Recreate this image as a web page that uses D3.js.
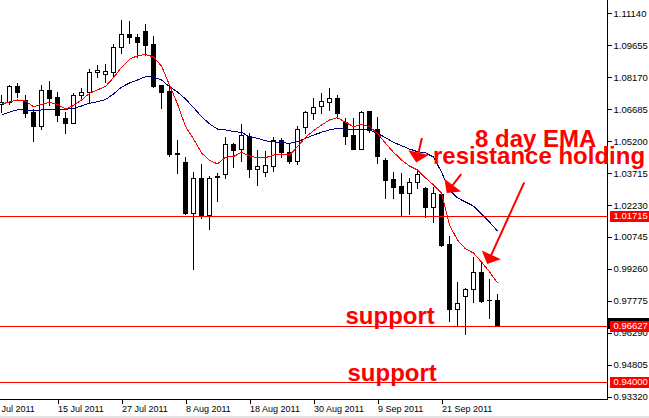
<!DOCTYPE html>
<html><head><meta charset="utf-8">
<script src="https://cdn.jsdelivr.net/npm/d3@7"></script>
<style>
html,body{margin:0;padding:0;background:#fff;}
svg{display:block;}
</style></head>
<body>
<script>
// ---------- DATA ----------
const dates = ["6 Jul","7 Jul","8 Jul","11 Jul","12 Jul","13 Jul","14 Jul","15 Jul","18 Jul","19 Jul","20 Jul","21 Jul","22 Jul","25 Jul","26 Jul","27 Jul","28 Jul","29 Jul","1 Aug","2 Aug","3 Aug","4 Aug","5 Aug","8 Aug","9 Aug","10 Aug","11 Aug","12 Aug","15 Aug","16 Aug","17 Aug","18 Aug","19 Aug","22 Aug","23 Aug","24 Aug","25 Aug","26 Aug","29 Aug","30 Aug","31 Aug","1 Sep","2 Sep","5 Sep","6 Sep","7 Sep","8 Sep","9 Sep","12 Sep","13 Sep","14 Sep","15 Sep","16 Sep","19 Sep","20 Sep","21 Sep","22 Sep","23 Sep","26 Sep","27 Sep","28 Sep","29 Sep","30 Sep"];
const open  = [1.0692,1.0700,1.0776,1.0711,1.0657,1.0592,1.0758,1.0725,1.0627,1.0606,1.0733,1.0747,1.0840,1.0832,1.0840,1.0956,1.1018,1.1002,1.1032,1.0971,1.0779,1.0753,1.0465,1.0421,1.0184,1.0347,1.0177,1.0355,1.0366,1.0507,1.0482,1.0545,1.0389,1.0378,1.0406,1.0525,1.0468,1.0429,1.0584,1.0649,1.0683,1.0700,1.0719,1.0609,1.0548,1.0482,1.0659,1.0575,1.0432,1.0344,1.0311,1.0277,1.0329,1.0301,1.0215,1.0273,1.0042,0.9738,0.9801,0.9831,0.9913,0.9781,0.9781];
const high  = [1.0734,1.0781,1.0790,1.0734,1.0668,1.0781,1.0801,1.0750,1.0657,1.0742,1.0765,1.0854,1.0874,1.0877,1.0970,1.1083,1.1078,1.1018,1.1064,1.1009,1.0780,1.0776,1.0525,1.0447,1.0375,1.0412,1.0358,1.0370,1.0540,1.0513,1.0600,1.0556,1.0479,1.0474,1.0538,1.0533,1.0510,1.0590,1.0661,1.0722,1.0742,1.0765,1.0734,1.0626,1.0629,1.0659,1.0660,1.0631,1.0440,1.0378,1.0373,1.0350,1.0389,1.0308,1.0308,1.0280,1.0080,0.9867,0.9839,0.9983,0.9952,0.9879,0.9808];
const low   = [1.0655,1.0692,1.0725,1.0632,1.0522,1.0578,1.0688,1.0615,1.0559,1.0603,1.0711,1.0697,1.0819,1.0796,1.0819,1.0931,1.0975,1.0910,1.0920,1.0773,1.0675,1.0452,1.0373,1.0180,0.9924,1.0164,1.0110,1.0242,1.0350,1.0401,1.0429,1.0352,1.0315,1.0359,1.0382,1.0448,1.0420,1.0414,1.0559,1.0621,1.0649,1.0665,1.0626,1.0508,1.0482,1.0482,1.0564,1.0420,1.0254,1.0254,1.0172,1.0181,1.0303,1.0166,1.0145,1.0032,0.9685,0.9665,0.9622,0.9774,0.9774,0.9699,0.9661];
const close = [1.0702,1.0776,1.0748,1.0652,1.0592,1.0758,1.0722,1.0641,1.0606,1.0734,1.0747,1.0840,1.0850,1.0846,1.0956,1.1018,1.1002,1.0982,1.0968,1.0776,1.0750,1.0460,1.0461,1.0184,1.0347,1.0172,1.0347,1.0356,1.0505,1.0479,1.0548,1.0389,1.0404,1.0409,1.0525,1.0471,1.0429,1.0575,1.0654,1.0680,1.0706,1.0719,1.0652,1.0545,1.0482,1.0657,1.0572,1.0451,1.0339,1.0308,1.0277,1.0329,1.0367,1.0215,1.0277,1.0037,0.9738,0.9766,0.9831,0.9910,0.9778,0.9780,0.96627];
const emaFast = [1.0692,1.0702,1.0711,1.0706,1.0680,1.0691,1.0700,1.0691,1.0669,1.0685,1.0711,1.0742,1.0758,1.0774,1.0815,1.0863,1.0900,1.0917,1.0923,1.0911,1.0869,1.0781,1.0692,1.0588,1.0530,1.0465,1.0431,1.0414,1.0445,1.0448,1.0468,1.0451,1.0443,1.0443,1.0455,1.0460,1.0455,1.0494,1.0538,1.0568,1.0595,1.0618,1.0629,1.0607,1.0587,1.0598,1.0587,1.0556,1.0510,1.0468,1.0432,1.0404,1.0386,1.0349,1.0316,1.0279,1.0130,1.0060,1.0019,1.0000,0.9958,0.9912,0.9861];
const emaSlow = [1.0641,1.0655,1.0665,1.0665,1.0660,1.0665,1.0669,1.0669,1.0668,1.0672,1.0683,1.0696,1.0703,1.0713,1.0739,1.0771,1.0790,1.0804,1.0819,1.0818,1.0804,1.0773,1.0748,1.0716,1.0676,1.0634,1.0600,1.0576,1.0572,1.0564,1.0561,1.0540,1.0533,1.0521,1.0517,1.0513,1.0510,1.0517,1.0533,1.0548,1.0561,1.0572,1.0580,1.0576,1.0572,1.0575,1.0572,1.0556,1.0536,1.0514,1.0499,1.0483,1.0471,1.0465,1.0446,1.0376,1.0293,1.0256,1.0237,1.0218,1.0181,1.0144,1.0102];
const yTicks = [1.11140,1.09655,1.08170,1.06685,1.05200,1.03715,1.02230,1.00745,0.99260,0.97775,0.96290,0.94805,0.93320];
const xTickIdx = [-1,7,15,23,31,39,47,55];
const xTickLabels = ["5 Jul 2011","15 Jul 2011","27 Jul 2011","8 Aug 2011","18 Aug 2011","30 Aug 2011","9 Sep 2011","21 Sep 2011"];
const levels = [1.01715, 0.96627, 0.94000];
const bid = close[close.length-1];
// arrows: [index, price] tail -> tip
const arrows = [
  {from:[52.55,1.0534], to:[51.84,1.0421]},
  {from:[57.46,1.0367], to:[55.65,1.0279]},
  {from:[65.34,1.0328], to:[60.71,0.9949]}
];
const notes = [
  {text:"8 day EMA", x:475, y:147},
  {text:"resistance holding", x:433, y:164},
  {text:"support", x:345.5, y:323.5},
  {text:"support", x:347.5, y:380.5}
];

// ---------- CHART ----------
const W=649, H=418, axisX=607.5, axisY=399.5;
const svg = d3.select("body").append("svg").attr("width",W).attr("height",H);
svg.append("rect").attr("width",W).attr("height",H).attr("fill","#fff");
svg.append("rect").attr("x",0).attr("y",416).attr("width",W).attr("height",2).attr("fill","#e4e4e4");

const x = d3.scaleLinear().domain([0, dates.length-1]).range([1.5, 1.5+8*(dates.length-1)]);
const y = d3.scaleLinear().domain([0.9332, 1.1114]).range([396.7, 13.3]);

const plot = svg.append("g").attr("shape-rendering","crispEdges");

// candles
const bars = d3.range(dates.length).map(i=>({i,o:open[i],h:high[i],l:low[i],c:close[i]}));
const cg = plot.append("g");
bars.forEach(b=>{
  const cx = x(b.i);
  cg.append("line").attr("x1",cx).attr("x2",cx)
    .attr("y1",Math.round(y(b.h))).attr("y2",Math.round(y(b.l))+1)
    .attr("stroke","#000").attr("stroke-width",1);
  const top = Math.round(y(Math.max(b.o,b.c)))+0.5;
  const bot = Math.round(y(Math.min(b.o,b.c)))+0.5;
  if (bot-top < 1) {
    cg.append("line").attr("x1",cx-2.5).attr("x2",cx+2.5).attr("y1",top).attr("y2",top)
      .attr("stroke","#000");
  } else {
    cg.append("rect").attr("x",cx-2).attr("y",top).attr("width",4).attr("height",bot-top)
      .attr("fill", b.c>=b.o ? "#fff" : "#000").attr("stroke","#000").attr("stroke-width",1);
  }
});

// EMAs
const line = d3.line().x((d,i)=>x(i)).y(d=>y(d));
plot.append("path").attr("d",line(emaSlow)).attr("fill","none").attr("stroke","#000080").attr("stroke-width",1);
plot.append("path").attr("d",line(emaFast)).attr("fill","none").attr("stroke","#ff0000").attr("stroke-width",1);

// horizontal levels
levels.forEach(v=>{
  const yy = Math.round(y(v))+0.5;
  plot.append("line").attr("x1",0).attr("x2",axisX).attr("y1",yy).attr("y2",yy)
    .attr("stroke","#ff0000").attr("stroke-width",1);
});

// axes
const fontFam = "'Liberation Sans', Arial, sans-serif";
const yAxis = d3.axisRight(y).tickValues(yTicks).tickSize(4).tickPadding(2).tickFormat(d3.format(".5f"));
const gy = svg.append("g").attr("transform",`translate(${axisX},0)`).call(yAxis);
gy.select(".domain").remove();
gy.selectAll("line").attr("stroke","#000").attr("shape-rendering","crispEdges");
gy.selectAll("text").attr("font-family",fontFam).attr("font-size","9.5px").attr("fill","#000");

const xAxis = d3.axisBottom(x).tickValues(xTickIdx).tickSize(4).tickPadding(2).tickFormat((d,i)=>xTickLabels[i]);
const gx = svg.append("g").attr("transform",`translate(0,${axisY})`).call(xAxis);
gx.select(".domain").remove();
gx.selectAll("line").attr("stroke","#000").attr("shape-rendering","crispEdges");
gx.selectAll("text").attr("font-family",fontFam).attr("font-size","9px").attr("fill","#000")
  .attr("text-anchor","start").attr("dx","0");

svg.append("line").attr("x1",axisX).attr("x2",axisX).attr("y1",0).attr("y2",axisY+0.5)
  .attr("stroke","#000").attr("shape-rendering","crispEdges");
svg.append("line").attr("x1",0).attr("x2",axisX).attr("y1",axisY).attr("y2",axisY)
  .attr("stroke","#000").attr("shape-rendering","crispEdges");

// bid box
{
  const yy = Math.round(y(bid));
  svg.append("rect").attr("x",608).attr("y",yy-8).attr("width",41).attr("height",11).attr("fill","#000");
}
// level label boxes
levels.forEach(v=>{
  const yy = Math.round(y(v));
  svg.append("rect").attr("x",610).attr("y",yy-5).attr("width",39).attr("height",11).attr("fill","#ff0000");
  svg.append("text").attr("x",613.5).attr("y",yy).attr("dy","0.34em")
    .attr("font-family",fontFam).attr("font-size","9.5px").attr("fill","#fff")
    .text(v.toFixed(5));
});

// arrows
const ag = svg.append("g");
arrows.forEach(a=>{
  const tx=x(a.from[0]), ty=y(a.from[1]), px=x(a.to[0]), py=y(a.to[1]);
  const dx=px-tx, dy=py-ty, L=Math.hypot(dx,dy), ux=dx/L, uy=dy/L;
  const hl=10, hw=10.5;
  const bx=px-ux*hl, by=py-uy*hl, nx=-uy, ny=ux;
  ag.append("line").attr("x1",tx).attr("y1",ty).attr("x2",bx+ux*2).attr("y2",by+uy*2)
    .attr("stroke","#ff0000").attr("stroke-width",2);
  ag.append("path").attr("d",`M${px},${py}L${bx+nx*hw},${by+ny*hw}L${bx-nx*hw},${by-ny*hw}Z`)
    .attr("fill","#ff0000");
});

// notes
notes.forEach(n=>{
  svg.append("text").attr("x",n.x).attr("y",n.y).text(n.text)
    .attr("font-family",fontFam).attr("font-weight","bold").attr("font-size","24px").attr("fill","#ff0000");
});
</script>
</body></html>
